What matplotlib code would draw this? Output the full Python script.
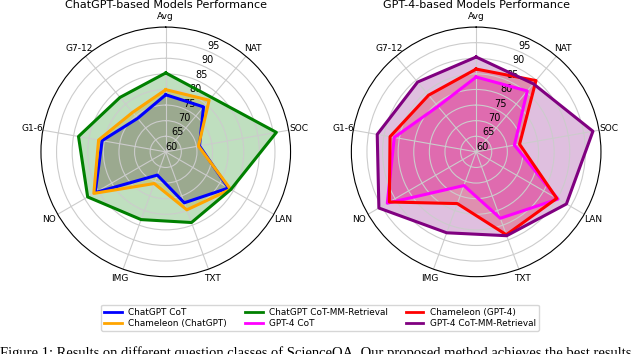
import matplotlib.pyplot as plt
import numpy as np
from matplotlib.lines import Line2D

# ── Data ─────────────────────────────────────────────────────────────────────
categories = ["Avg", "NAT", "SOC", "LAN", "TXT", "IMG", "NO", "G1-6", "G7-12"]

# ChatGPT-based models
chatgpt_cot = [78.31, 78.82, 70.98, 83.18, 77.37, 67.92, 86.13, 80.72, 74.03]
chameleon_chatgpt = [79.93, 81.62, 70.64, 84.00, 79.77, 70.80, 86.62, 81.86, 76.53]
chatgpt_mm = [85.3, 82.8, 96.0, 84.1, 84.1, 83.1, 88.9, 88.4, 82.8]

# GPT-4-based models
gpt4_cot = [83.99, 85.48, 72.44, 90.27, 82.65, 71.49, 92.89, 86.66, 79.04]
chameleon_gpt4 = [86.54, 89.83, 74.13, 89.82, 88.27, 77.64, 92.13, 88.03, 83.72]
gpt4_mm = [90.4, 88.5, 98.0, 93.4, 88.6, 87.6, 96.0, 92.2, 89.2]

r_ticks = [60, 65, 70, 75, 80, 85, 90, 95]

left_series = [
    ("ChatGPT CoT", chatgpt_cot, "blue"),
    ("Chameleon (ChatGPT)", chameleon_chatgpt, "orange"),
    ("ChatGPT CoT-MM-Retrieval", chatgpt_mm, "green"),
]
right_series = [
    ("GPT-4 CoT", gpt4_cot, "magenta"),
    ("Chameleon (GPT-4)", chameleon_gpt4, "red"),
    ("GPT-4 CoT-MM-Retrieval", gpt4_mm, "purple"),
]

angles = np.linspace(0, 2 * np.pi, len(categories), endpoint=False)
closed = np.concatenate([angles, angles[:1]])

fig = plt.figure(figsize=(6.4, 3.54), dpi=100)
ax_l = fig.add_axes([0.064, 0.218, 0.39, 0.706], projection="polar")
ax_r = fig.add_axes([0.549, 0.218, 0.39, 0.706], projection="polar")


def radar(ax, series, title):
    ax.set_theta_offset(np.pi / 2)
    ax.set_theta_direction(-1)
    for name, vals, color in series:
        v = np.concatenate([vals, vals[:1]])
        ax.plot(closed, v, color=color, lw=2.2, label=name)
        ax.fill(closed, v, color=color, alpha=0.25)
    ax.set_ylim(60, 100)
    ax.set_xticks(angles)
    ax.set_xticklabels(categories, fontsize=6.5)
    ax.set_rgrids(r_ticks, labels=[str(t) for t in r_ticks], fontsize=7)
    ax.tick_params(axis="x", pad=-3)
    ax.grid(color="#cccccc", lw=0.8)
    ax.spines["polar"].set_linewidth(0.8)
    # title drawn at the very top of the figure, centred over the radar
    bb = ax.get_position()
    fig.text((bb.x0 + bb.x1) / 2, 0.999, title, fontsize=8,
             ha="center", va="top")


radar(ax_l, left_series, "ChatGPT-based Models Performance")
radar(ax_r, right_series, "GPT-4-based Models Performance")

# legend order (column-wise fill, 3 columns)
order = [left_series[0], left_series[1], left_series[2],
         right_series[0], right_series[1], right_series[2]]
handles = [Line2D([], [], color=c, lw=2) for _, _, c in order]
labels = [n for n, _, _ in order]
fig.legend(handles, labels, ncol=3, fontsize=6.4, loc="center",
           bbox_to_anchor=(0.5, 0.102), frameon=True, handlelength=2.0,
           handletextpad=0.7, columnspacing=2.0, borderpad=0.35,
           labelspacing=0.25)

# caption of the source page, cut by the bottom edge as in the reference
fig.text(0.0, -0.008, "Figure 1: Results on different question classes of ScienceQA. "
         "Our proposed method achieves the best results",
         fontsize=10.5, family="Liberation Serif", ha="left", va="baseline")

fig.savefig("out.png", dpi=100)
